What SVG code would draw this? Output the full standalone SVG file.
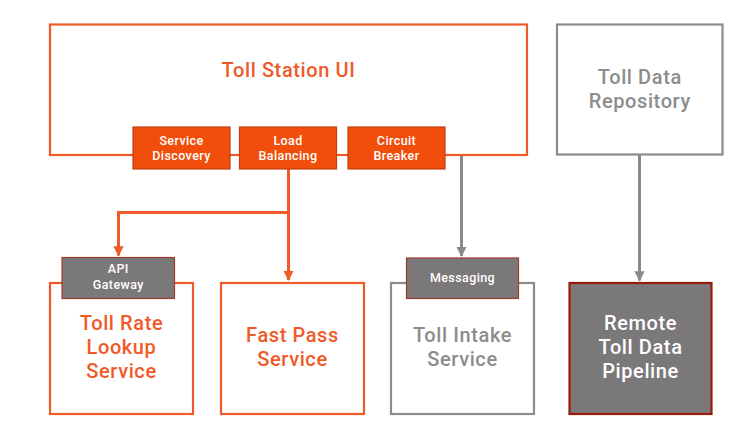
<svg xmlns="http://www.w3.org/2000/svg" width="738" height="432" viewBox="0 0 738 432">
<style>
text{font-family:Roboto,"Liberation Sans",sans-serif;text-anchor:middle}
.big{font-size:20px;font-weight:500;letter-spacing:0.6px}
.sm{font-size:12.5px;font-weight:500;fill:#fff;letter-spacing:0.4px}
.o{fill:#F05A28}
.g{fill:#8C8C8C}
.w{fill:#fff}
.ob{fill:#fff;stroke:#F05A28;stroke-width:2.2}
.gb{fill:#fff;stroke:#8C8C8C;stroke-width:2.2}
.tab{fill:#F04E0A;stroke:#C0400E;stroke-width:1.2}
.gtab{fill:#7B7879;stroke:#A0392A;stroke-width:1.2}
.ol{fill:none;stroke:#F05A28;stroke-width:3}
.gl{fill:none;stroke:#8A8A8A;stroke-width:3}
</style>
<defs>
<marker id="ao" viewBox="0 0 10 10" refX="9" refY="5" markerWidth="3.4" markerHeight="3.4" orient="auto" markerUnits="strokeWidth"><path d="M0,0 L10,5 L0,10 z" fill="#F05A28"/></marker>
<marker id="ag" viewBox="0 0 10 10" refX="9" refY="5" markerWidth="3.4" markerHeight="3.4" orient="auto" markerUnits="strokeWidth"><path d="M0,0 L10,5 L0,10 z" fill="#8A8A8A"/></marker>
</defs>
<rect width="738" height="432" fill="#fff"/>
<g id="connectors">
<path class="ol" d="M288.5,169 V280" marker-end="url(#ao)"/>
<path class="ol" d="M288.5,212.5 H118.5 V255.5" marker-end="url(#ao)"/>
<path class="gl" d="M461.5,155 V256" marker-end="url(#ag)"/>
<path class="gl" d="M639.5,155 V280.5" marker-end="url(#ag)"/>
</g>
<g id="toll-station-ui">
<rect class="ob" x="50" y="24.5" width="477" height="130.5"/>
<text class="big o" x="288.5" y="77">Toll Station UI</text>
</g>
<g id="service-discovery">
<rect class="tab" x="133" y="127" width="97" height="42"/>
<text class="sm" x="181.5" y="144.5">Service</text>
<text class="sm" x="181.5" y="160">Discovery</text>
</g>
<g id="load-balancing">
<rect class="tab" x="239.5" y="127" width="97" height="42"/>
<text class="sm" x="288" y="144.5">Load</text>
<text class="sm" x="288" y="160">Balancing</text>
</g>
<g id="circuit-breaker">
<rect class="tab" x="348" y="127" width="97" height="42"/>
<text class="sm" x="396.5" y="144.5">Circuit</text>
<text class="sm" x="396.5" y="160">Breaker</text>
</g>
<g id="toll-data-repository">
<rect class="gb" x="557" y="24.5" width="165.5" height="130"/>
<text class="big g" x="639.8" y="84">Toll Data</text>
<text class="big g" x="639.8" y="108">Repository</text>
</g>
<g id="toll-rate-lookup-service">
<rect class="ob" x="50" y="283" width="143" height="131"/>
<text class="big o" x="121.5" y="330">Toll Rate</text>
<text class="big o" x="121.5" y="354">Lookup</text>
<text class="big o" x="121.5" y="378">Service</text>
</g>
<g id="api-gateway">
<rect class="gtab" x="62" y="257.5" width="112.5" height="41"/>
<text class="sm" x="118.3" y="273">API</text>
<text class="sm" x="118.3" y="289">Gateway</text>
</g>
<g id="fast-pass-service">
<rect class="ob" x="221" y="283" width="143" height="131"/>
<text class="big o" x="292.5" y="342">Fast Pass</text>
<text class="big o" x="292.5" y="366">Service</text>
</g>
<g id="toll-intake-service">
<rect class="gb" x="391" y="283" width="143" height="131"/>
<text class="big g" x="462.5" y="342">Toll Intake</text>
<text class="big g" x="462.5" y="366">Service</text>
</g>
<g id="messaging">
<rect class="gtab" x="406.5" y="258" width="112" height="40.5"/>
<text class="sm" x="462.5" y="282">Messaging</text>
</g>
<g id="remote-toll-data-pipeline">
<rect x="569.5" y="283" width="142" height="131" fill="#7B7879" stroke="#9B1B0B" stroke-width="2.2"/>
<text class="big w" x="640.5" y="330">Remote</text>
<text class="big w" x="640.5" y="354">Toll Data</text>
<text class="big w" x="640.5" y="378">Pipeline</text>
</g>
</svg>
